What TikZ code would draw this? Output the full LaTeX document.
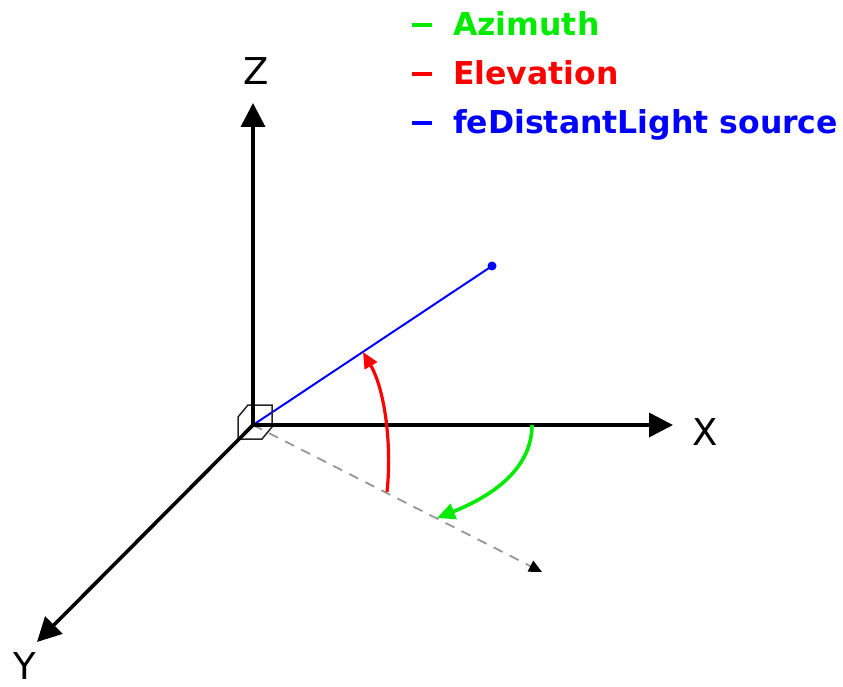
\documentclass[tikz,border=0pt]{standalone}
\usepackage{fontspec}
\setmainfont{DejaVu Sans}
\usetikzlibrary{arrows.meta}
\definecolor{lgreen}{RGB}{0,235,0}
\definecolor{lred}{RGB}{255,0,0}
\definecolor{lblue}{RGB}{0,0,255}
\definecolor{dgray}{RGB}{150,150,150}
\begin{document}
\begin{tikzpicture}[x=1pt,y=-1pt,
  axis/.style={line width=3.6pt,black,-{Triangle[length=24pt,width=24pt]}},
  axlabel/.style={font=\fontsize{37}{37}\selectfont,inner sep=0pt},
  legend/.style={font=\fontsize{31.5}{31.5}\selectfont\bfseries,inner sep=0pt,anchor=base west},
  legdash/.style={line width=4pt},
  proj/.style={dgray,line width=1.8pt,dash pattern=on 10pt off 8pt,-{Triangle[length=13pt,width=12pt,black]}},
  light/.style={lblue,line width=2pt},
  elev/.style={lred,line width=3.2pt,-{Triangle[length=16pt,width=14pt]}},
  azim/.style={lgreen,line width=3.6pt,-{Triangle[length=18pt,width=16pt]}}]
\useasboundingbox (0,0) rectangle (843,687);
% coordinates
\coordinate (O) at (253,425);
\coordinate (Ztip) at (253,103);
\coordinate (Xtip) at (673,425);
\coordinate (Ytip) at (37,642);
\coordinate (P) at (542,572);
\coordinate (L) at (492,266);
\coordinate (e0) at (387,492);
\coordinate (e1) at (363,352);
\coordinate (a0) at (532,425);
\coordinate (a1) at (437,518);
% projection and light
\draw[proj] (O) -- (P);
\draw[light] (O) -- (L);
\fill[lblue] (L) circle (4.5pt);
% origin cube
\draw[line width=1.5pt,black!85] (248,405) -- (272,405) -- (272,427) -- (262,439) -- (238,439) -- (238,417) -- cycle;
% axes
\draw[axis] (O) -- (Ztip);
\draw[axis] (O) -- (Xtip);
\draw[axis] (O) -- (Ytip);
% angles
\draw[elev] (e0) .. controls (392,445) and (385,390) .. (e1);
\draw[azim] (a0) .. controls (532,470) and (490,497) .. (a1);
% axis labels
\node[axlabel,anchor=base] (zl) at (256,85) {Z};
\node[axlabel,anchor=base west] (xl) at (692,445) {X};
\node[axlabel,anchor=base] (yl) at (25,679) {Y};
% legend
\coordinate (d1a) at (412,25); \coordinate (d1b) at (432,25);
\coordinate (d2a) at (412,74); \coordinate (d2b) at (432,74);
\coordinate (d3a) at (412,123); \coordinate (d3b) at (432,123);
\draw[legdash,lgreen] (d1a) -- (d1b);
\draw[legdash,lred] (d2a) -- (d2b);
\draw[legdash,lblue] (d3a) -- (d3b);
\node[legend,lgreen] (t1) at (453,36) {Azimuth};
\node[legend,lred] (t2) at (453,85) {Elevation};
\node[legend,lblue] (t3) at (453,134) {feDistantLight source};
\end{tikzpicture}
\end{document}
